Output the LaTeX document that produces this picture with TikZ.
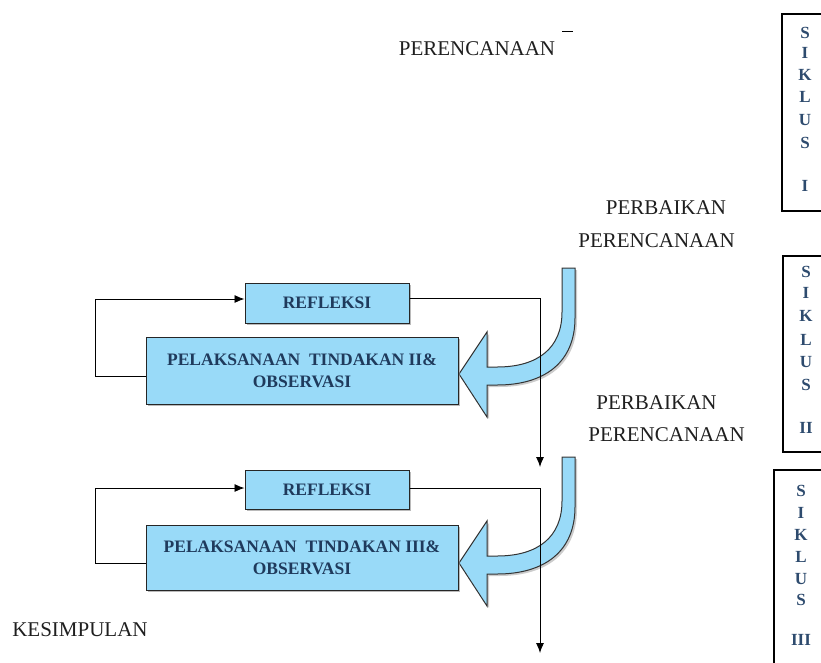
\documentclass[tikz,border=0pt]{standalone}
\usepackage{fontspec}
\setmainfont{Liberation Serif}
\usetikzlibrary{shadows,arrows.meta}
\definecolor{boxblue}{HTML}{99DAF8}
\definecolor{navy}{HTML}{1F3A5C}
\definecolor{slate}{HTML}{2E4B6E}
\begin{document}
\begin{tikzpicture}[x=1pt,y=-1pt,
  plain/.style={font=\fontsize{21}{25}\selectfont, text=black!88, inner sep=0pt},
  blk/.style={draw=black!85, line width=1pt, fill=boxblue, font=\bfseries\fontsize{17.5}{22}\selectfont,
    text=navy, inner sep=0pt, align=center,
    drop shadow={shadow xshift=2pt, shadow yshift=-2pt, fill=black!45, opacity=0.6}},
  bigarr/.style={fill=boxblue, draw=black!80, line width=1pt,
    drop shadow={shadow xshift=2pt, shadow yshift=-2pt, fill=black!40, opacity=0.5}},
  conn/.style={draw=black, line width=0.9pt},
  tip/.style={-{Latex[length=10pt,width=8pt]}},
  sikbox/.style={draw=black, line width=2.6pt},
  sik/.style={font=\bfseries\fontsize{17}{20}\selectfont, text=slate, inner sep=0pt}
]
\useasboundingbox (0,0) rectangle (821,662);
\clip (0,0) rectangle (821,662);

% top label
\node[plain] (plan) at (477,48.5) {PERENCANAAN};
\draw[line width=0.9pt] (562,31) -- (573,31);

% SIKLUS boxes
\draw[sikbox] (782,14) rectangle (850,211);
\foreach \l/\y [count=\i] in {S/33,I/53,K/75,L/97,U/120,S/143,I/186}
  \node[sik] (sa\i) at (805,\y) {\l};
\draw[sikbox] (783,256) rectangle (850,452);
\foreach \l/\y [count=\i] in {S/272,I/293,K/316,L/340,U/362,S/385,II/428}
  \node[sik] (sb\i) at (806,\y) {\l};
\draw[sikbox] (774,470) rectangle (850,680);
\foreach \l/\y [count=\i] in {S/491,I/513,K/535,L/557,U/579,S/600,III/640}
  \node[sik] (sc\i) at (801,\y) {\l};

% labels
\node[plain] (pb1) at (666,208) {PERBAIKAN};
\node[plain] (pr1) at (656.5,241) {PERENCANAAN};
\node[plain] (pb2) at (656.5,403) {PERBAIKAN};
\node[plain] (pr2) at (666.5,435) {PERENCANAAN};
\node[plain] (kes) at (80,630) {KESIMPULAN};

% big curved arrows
\foreach \s in {0,189}{
\begin{scope}[shift={(0,\s)}]
\path[bigarr] (562,268) -- (575,268) -- (575,318)
  .. controls (575,362) and (545,385) .. (497,385) -- (487,385) -- (487,417)
  -- (459,374) -- (487,332) -- (487,367) -- (497,367)
  .. controls (538,367) and (562,348) .. (562,312) -- cycle;
\end{scope}}

% upper cycle
\node[blk, minimum width=164pt, minimum height=40pt] (refl1) at (327,303) {REFLEKSI};
\node[blk, minimum width=312pt, minimum height=67pt] (pel1) at (302,370.5)
  {PELAKSANAAN\ \ TINDAKAN II\&\\OBSERVASI};
\coordinate (e1) at (540,467);
\draw[conn,tip] ([yshift=-5.5pt]pel1.west) -- ++(-50,0) |- ([yshift=4pt]refl1.west);
\draw[conn,tip] ([yshift=5pt]refl1.east) -| (e1);

% lower cycle
\node[blk, minimum width=164pt, minimum height=39pt] (refl2) at (327,489.5) {REFLEKSI};
\node[blk, minimum width=312pt, minimum height=65pt] (pel2) at (302,557.5)
  {PELAKSANAAN\ \ TINDAKAN III\&\\OBSERVASI};
\coordinate (e2) at (540,653);
\draw[conn,tip] ([yshift=-5.5pt]pel2.west) -- ++(-50,0) |- ([yshift=1.5pt]refl2.west);
\draw[conn,tip] ([yshift=1.5pt]refl2.east) -| (e2);
\end{tikzpicture}
\end{document}
